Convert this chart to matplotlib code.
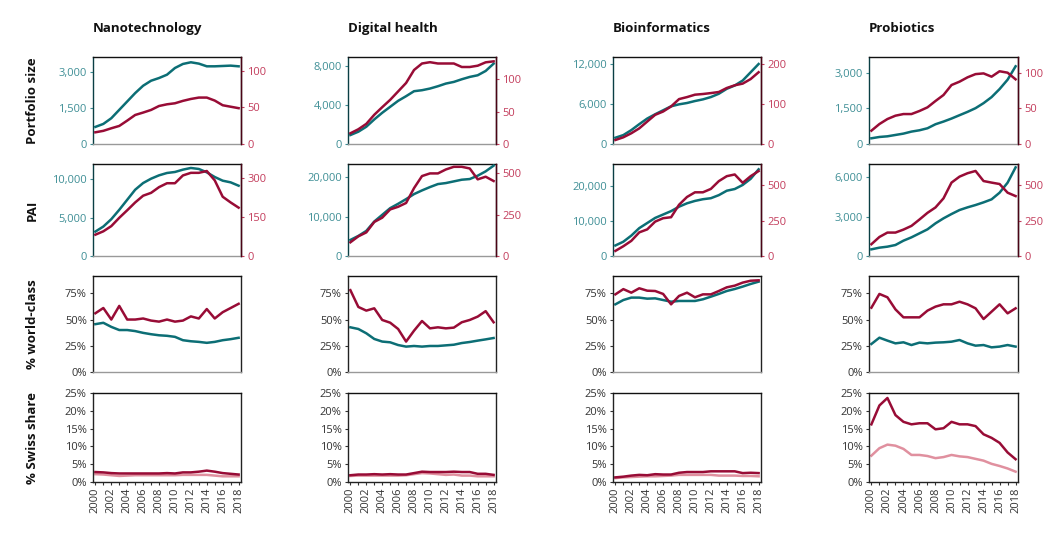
import matplotlib
matplotlib.use("Agg")
import matplotlib.pyplot as plt
from matplotlib.ticker import FuncFormatter, PercentFormatter

plt.rcParams['font.family'] = ['Open Sans', 'DejaVu Sans']

years = list(range(2000, 2019))
fields = ["Nanotechnology", "Digital health", "Bioinformatics", "Probiotics"]
row_names = ["Portfolio size", "PAI", "% world-class", "% Swiss share"]

# portfolio size: teal = left axis, red = right axis
size_left = {
    "Nanotechnology": [712, 837, 1074, 1423, 1772, 2121, 2428, 2637, 2749, 2888, 3167, 3335, 3405, 3349, 3237, 3237, 3251, 3265, 3237],
    "Digital health": [919, 1260, 1770, 2519, 3200, 3813, 4426, 4902, 5413, 5515, 5685, 5923, 6196, 6366, 6638, 6877, 7047, 7489, 8238],
    "Bioinformatics": [942, 1339, 2083, 2975, 3818, 4463, 5058, 5653, 5950, 6149, 6446, 6694, 7041, 7537, 8281, 8777, 9521, 10760, 12000],
    "Probiotics": [241, 297, 325, 382, 439, 524, 580, 665, 835, 948, 1075, 1217, 1358, 1514, 1726, 1981, 2321, 2717, 3283],
}
size_right = {
    "Nanotechnology": [16, 18, 21.5, 24.7, 32, 39.7, 43, 46.6, 52, 54.3, 55.7, 59, 61.6, 63.5, 63.5, 59.4, 53, 51, 49],
    "Digital health": [16.5, 22.7, 31, 45, 56.7, 68, 81, 94, 114, 124, 126, 124, 124, 124, 118.6, 118.6, 120.6, 125.8, 127.3],
    "Bioinformatics": [10, 16.7, 26.8, 39, 56, 72.8, 81, 93.7, 112, 117, 123, 124.7, 127, 129.7, 139.7, 146.4, 150.6, 162, 179],
    "Probiotics": [18.7, 28, 35, 39.7, 42, 42, 46.3, 51.4, 60.3, 68.7, 82.7, 87.4, 93.5, 98, 99, 94.4, 102, 100, 90.7],
}
pai_left = {
    "Nanotechnology": [3174, 3826, 4783, 6000, 7304, 8609, 9478, 10043, 10478, 10783, 10913, 11217, 11435, 11304, 10870, 10261, 9783, 9565, 9130],
    "Digital health": [4085, 5106, 6383, 8766, 10468, 12170, 13277, 14468, 15745, 16681, 17532, 18298, 18553, 18979, 19404, 19574, 20426, 21532, 22979],
    "Bioinformatics": [3024, 4098, 5854, 8000, 9463, 10927, 11902, 12878, 14146, 15122, 15805, 16293, 16585, 17463, 18732, 19220, 20390, 22146, 24878],
    "Probiotics": [508, 636, 712, 839, 1169, 1424, 1729, 2034, 2492, 2873, 3203, 3508, 3712, 3890, 4093, 4322, 4831, 5593, 6763],
}
pai_right = {
    "Nanotechnology": [82, 95, 115, 147, 176, 206, 232, 243, 265, 280, 280, 310, 320, 320, 327, 291, 228, 206, 186],
    "Digital health": [83, 119, 143, 206, 232, 282, 298, 321, 411, 484, 500, 500, 524, 540, 540, 530, 464, 480, 454],
    "Bioinformatics": [36, 69, 107, 167, 188, 243, 267, 274, 362, 417, 450, 450, 474, 529, 564, 576, 517, 564, 600],
    "Probiotics": [83, 134, 165, 165, 186, 212, 257, 304, 342, 406, 517, 559, 583, 599, 528, 517, 507, 446, 422],
}
# % world-class
wc_red = {
    "Nanotechnology": [56, 61, 50, 63, 50, 50, 51, 49, 48, 50, 48, 49, 53, 51, 60, 51, 57, 61, 65],
    "Digital health": [78, 62, 58.5, 60.7, 49.6, 47, 41, 29, 39.4, 48.6, 41.6, 42.6, 41.6, 42.3, 47.4, 49.6, 52.8, 58, 47.4],
    "Bioinformatics": [74, 79, 75.6, 79.8, 77.5, 77.2, 74.4, 64.5, 72.5, 75.6, 71.2, 74, 74, 77.2, 80.7, 82.3, 85.2, 87, 87.4],
    "Probiotics": [61.3, 74.4, 71.2, 59.7, 52.1, 52.1, 52.1, 58.5, 62.3, 64.5, 64.5, 67, 64.5, 60.7, 50.5, 57.5, 64.5, 55.9, 60.7],
}
wc_teal = {
    "Nanotechnology": [45.6, 46.9, 43, 40, 40, 39, 37.3, 36, 35, 34.5, 33.5, 30.3, 29.3, 28.7, 27.8, 28.7, 30.3, 31.3, 32.6],
    "Digital health": [42.6, 41, 36.9, 31.5, 29, 28.3, 25.7, 24.2, 24.8, 24.2, 24.8, 24.8, 25.4, 26, 27.6, 28.6, 29.9, 31.1, 32.4],
    "Bioinformatics": [64.5, 68.6, 70.9, 70.9, 69.9, 70.2, 68.6, 67, 67.7, 67.7, 67.7, 69.3, 71.8, 74.4, 77.2, 79.1, 81.4, 83.9, 86.1],
    "Probiotics": [26.7, 32.7, 29.9, 27.3, 28.3, 25.7, 28, 27.3, 28, 28.3, 28.9, 30.5, 27.3, 25.1, 25.7, 23.5, 24.2, 25.7, 24.2],
}
# % Swiss share
swiss_red = {
    "Nanotechnology": [2.8, 2.7, 2.5, 2.4, 2.4, 2.4, 2.4, 2.4, 2.4, 2.5, 2.4, 2.7, 2.7, 2.9, 3.2, 2.9, 2.5, 2.3, 2.1],
    "Digital health": [1.9, 2.1, 2.1, 2.2, 2.1, 2.2, 2.1, 2.1, 2.5, 2.9, 2.8, 2.8, 2.8, 2.9, 2.8, 2.8, 2.3, 2.3, 2.0],
    "Bioinformatics": [1.3, 1.5, 1.8, 2.0, 1.9, 2.2, 2.1, 2.1, 2.6, 2.8, 2.8, 2.8, 3.0, 3.0, 3.0, 3.0, 2.5, 2.6, 2.5],
    "Probiotics": [16.2, 21.5, 23.6, 18.8, 16.9, 16.2, 16.5, 16.5, 14.8, 15.1, 16.9, 16.2, 16.2, 15.7, 13.4, 12.4, 11, 8.3, 6.4],
}
swiss_pink = {
    "Nanotechnology": [2.2, 2.1, 1.9, 1.7, 1.8, 1.9, 1.9, 1.9, 1.9, 1.9, 1.9, 2.0, 2.0, 2.0, 2.0, 1.8, 1.6, 1.6, 1.6],
    "Digital health": [1.7, 1.8, 1.8, 1.8, 1.8, 1.8, 1.8, 1.9, 2.2, 2.5, 2.4, 2.2, 2.0, 2.1, 1.8, 1.8, 1.6, 1.6, 1.6],
    "Bioinformatics": [1.1, 1.3, 1.4, 1.5, 1.6, 1.6, 1.7, 1.8, 2.0, 2.0, 2.0, 2.0, 2.0, 1.8, 1.8, 1.8, 1.7, 1.7, 1.6],
    "Probiotics": [7.4, 9.5, 10.5, 10.2, 9.3, 7.6, 7.6, 7.3, 6.7, 7.0, 7.6, 7.2, 7.0, 6.5, 6.0, 5.1, 4.5, 3.8, 2.9],
}

# axis ranges
size_lim = {"Nanotechnology": (3625, 119), "Digital health": (8920, 134), "Bioinformatics": (13050, 217), "Probiotics": (3676, 122)}
size_ticks = {"Nanotechnology": ([0, 1500, 3000], [0, 50, 100]), "Digital health": ([0, 4000, 8000], [0, 50, 100]),
              "Bioinformatics": ([0, 6000, 12000], [0, 100, 200]), "Probiotics": ([0, 1500, 3000], [0, 50, 100])}
pai_lim = {"Nanotechnology": (11950, 354), "Digital health": (23400, 557), "Bioinformatics": (26400, 650), "Probiotics": (7020, 648)}
pai_ticks = {"Nanotechnology": ([0, 5000, 10000], [0, 150, 300]), "Digital health": ([0, 10000, 20000], [0, 250, 500]),
             "Bioinformatics": ([0, 10000, 20000], [0, 250, 500]), "Probiotics": ([0, 3000, 6000], [0, 250, 500])}

TEAL = "#0c6e75"
RED = "#980c36"
PINK = "#e0909f"
TEAL_TXT = "#3f8f96"
RED_TXT = "#c33d5c"

W, H = 1059, 551
fig = plt.figure(figsize=(W / 100, H / 100), dpi=100)

cols = [(93, 241), (348, 496), (613, 761), (869, 1018)]
rows = [(57, 144), (164, 256), (276, 372), (393, 482)]

comma = FuncFormatter(lambda v, p: f"{v:,.0f}")


def make_ax(c, r):
    x0, x1 = cols[c]
    y0, y1 = rows[r]
    return fig.add_axes([x0 / W, 1 - y1 / H, (x1 - x0) / W, (y1 - y0) / H])


def style(ax):
    ax.set_xlim(1999.7, 2018.3)
    ax.spines['top'].set_color("#111111")
    ax.spines['bottom'].set_color("#999999")
    ax.spines['left'].set_color("#222222")
    ax.spines['right'].set_color("#222222")
    for s in ax.spines.values():
        s.set_linewidth(1.0)


for c, f in enumerate(fields):
    # rows 1 and 2: twin axes
    for r, (left, right, lims, ticks) in enumerate([(size_left, size_right, size_lim, size_ticks),
                                                     (pai_left, pai_right, pai_lim, pai_ticks)]):
        ax = make_ax(c, r)
        style(ax)
        ax.spines['left'].set_color("#0a3f44")
        ax2 = ax.twinx()
        ax2.set_xlim(1999.7, 2018.3)
        ax2.spines['right'].set_color("#4a0416")
        ax2.spines['right'].set_linewidth(1.0)
        ax2.spines['left'].set_visible(False)
        ax2.spines['top'].set_visible(False)
        ax2.spines['bottom'].set_visible(False)
        ax.plot(years, left[f], color=TEAL, lw=1.8, zorder=3)
        ax2.plot(years, right[f], color=RED, lw=1.8)
        ax.set_ylim(0, lims[f][0])
        ax2.set_ylim(0, lims[f][1])
        ax.set_yticks(ticks[f][0])
        ax2.set_yticks(ticks[f][1])
        ax.yaxis.set_major_formatter(comma)
        ax.tick_params(axis='y', colors=TEAL_TXT, labelsize=8, length=2.5, pad=2)
        ax2.tick_params(axis='y', colors=RED_TXT, labelsize=8, length=2.5, pad=2)
        ax.set_xticks([])
        ax2.set_xticks([])
        if r == 0:
            ax.text(0, 1.33, f, transform=ax.transAxes, fontsize=9.5, fontweight='bold',
                    ha='left', va='center', color="#111111")

    # row 3: world-class share
    ax = make_ax(c, 2)
    style(ax)
    ax.plot(years, wc_teal[f], color=TEAL, lw=1.8)
    ax.plot(years, wc_red[f], color=RED, lw=1.8)
    ax.set_ylim(0, 91.5)
    ax.set_yticks([0, 25, 50, 75])
    ax.yaxis.set_major_formatter(PercentFormatter(decimals=0))
    ax.tick_params(axis='y', colors="#333333", labelsize=8, length=2.5, pad=2)
    ax.set_xticks([])

    # row 4: Swiss share
    ax = make_ax(c, 3)
    style(ax)
    ax.spines['bottom'].set_color("#222222")
    ax.plot(years, swiss_pink[f], color=PINK, lw=1.8)
    ax.plot(years, swiss_red[f], color=RED, lw=1.8)
    ax.set_ylim(0, 25)
    ax.set_yticks([0, 5, 10, 15, 20, 25])
    ax.yaxis.set_major_formatter(PercentFormatter(decimals=0))
    ax.set_xticks(years)
    ax.set_xticklabels([str(y) if y % 2 == 0 else "" for y in years], rotation=90)
    ax.tick_params(axis='y', colors="#333333", labelsize=8, length=2.5, pad=2)
    ax.tick_params(axis='x', colors="#333333", labelsize=8, length=2, pad=2)

for r, name in enumerate(row_names):
    y0, y1 = rows[r]
    fig.text(32 / W, 1 - (y0 + y1) / 2 / H, name, rotation=90, ha='center', va='center',
             fontsize=9.5, fontweight='bold', color="#111111")

fig.savefig("out.png", dpi=100)
